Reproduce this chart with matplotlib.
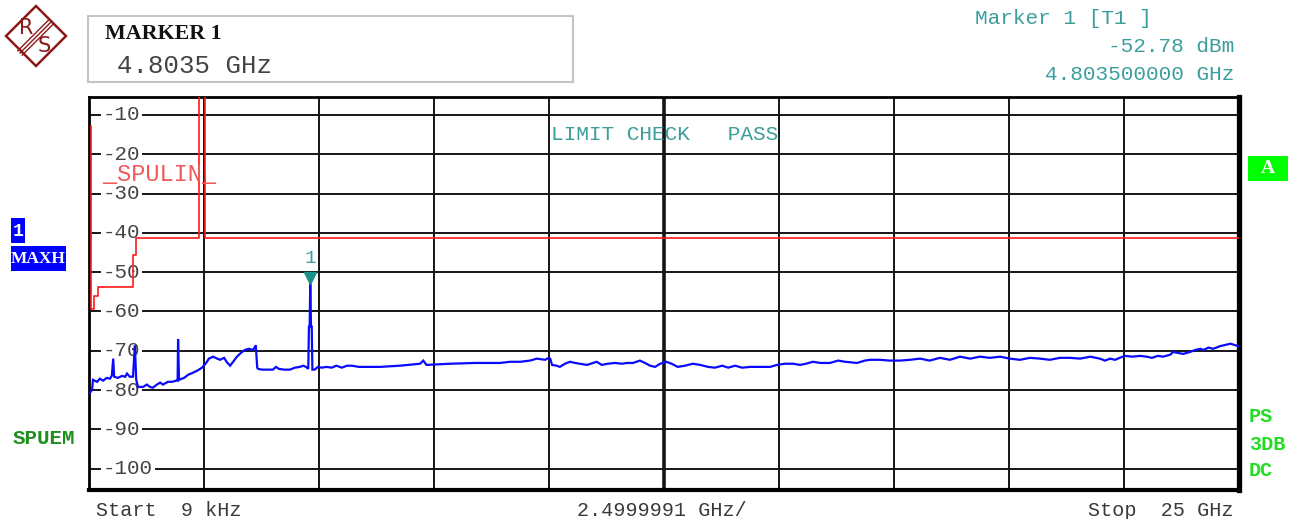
import matplotlib
matplotlib.use("Agg")
import matplotlib.pyplot as plt
from matplotlib.patches import Rectangle, Polygon
from matplotlib.lines import Line2D

# ---------------- data ----------------
marker_freq_ghz = 4.8035
marker_level_dbm = -52.78

trace_freq_ghz = [
    0.015, 0.06, 0.08, 0.17, 0.23, 0.30, 0.38, 0.45, 0.49, 0.52,
    0.54, 0.62, 0.71, 0.78, 0.82, 0.88, 0.95, 0.99, 1.02, 1.06,
    1.17, 1.25, 1.32, 1.38, 1.47, 1.54, 1.60, 1.71, 1.80, 1.89,
    1.92, 1.93, 1.95, 2.06, 2.15, 2.25, 2.34, 2.41, 2.45, 2.54,
    2.60, 2.69, 2.78, 2.84, 2.93, 2.99, 3.06, 3.12, 3.21, 3.30,
    3.38, 3.47, 3.56, 3.62, 3.65, 3.67, 3.75, 3.88, 3.99, 4.06,
    4.12, 4.23, 4.36, 4.47, 4.58, 4.65, 4.71, 4.76, 4.775, 4.79,
    4.8035, 4.82, 4.835, 4.85, 4.90, 4.97, 5.05, 5.16, 5.27, 5.37,
    5.49, 5.60, 5.71, 5.86, 6.32, 6.75, 7.19, 7.26, 7.33, 7.84,
    8.38, 8.93, 9.15, 9.37, 9.58, 9.73, 9.91, 9.99, 10.02, 10.06,
    10.16, 10.23, 10.34, 10.45, 10.56, 10.67, 10.82, 10.95, 11.03, 11.14,
    11.27, 11.43, 11.58, 11.69, 11.82, 11.97, 12.08, 12.19, 12.30, 12.41,
    12.54, 12.66, 12.79, 12.95, 13.12, 13.28, 13.45, 13.60, 13.76, 13.89,
    14.04, 14.19, 14.37, 14.58, 14.80, 14.95, 15.12, 15.30, 15.45, 15.58,
    15.73, 15.89, 16.10, 16.28, 16.43, 16.69, 16.86, 16.97, 17.19, 17.40,
    17.62, 17.84, 18.06, 18.27, 18.49, 18.71, 18.93, 19.15, 19.36, 19.58,
    19.80, 20.01, 20.23, 20.45, 20.67, 20.88, 21.10, 21.32, 21.54, 21.76,
    21.97, 22.08, 22.19, 22.30, 22.40, 22.51, 22.68, 22.84, 22.99, 23.10,
    23.23, 23.34, 23.50, 23.56, 23.65, 23.78, 23.93, 24.04, 24.15, 24.22,
    24.33, 24.43, 24.59, 24.70, 24.81, 24.89, 24.97,
]
trace_level_dbm = [
    -80.7, -79.9, -77.4, -77.9, -77.1, -77.6, -76.9, -77.1, -76.3, -72.0,
    -76.6, -76.9, -76.4, -76.6, -75.8, -76.6, -76.6, -68.6, -77.4, -79.2,
    -79.2, -78.6, -79.2, -79.4, -78.6, -78.1, -78.6, -77.9, -77.9, -77.6,
    -77.6, -67.0, -77.4, -76.9, -76.1, -75.6, -75.1, -74.6, -74.3, -73.1,
    -72.0, -71.5, -72.0, -72.3, -71.8, -72.9, -73.8, -72.9, -71.5, -70.5,
    -69.8, -69.5, -69.8, -68.6, -74.3, -74.6, -74.8, -74.8, -74.8, -74.1,
    -74.6, -74.8, -74.8, -74.3, -74.1, -73.8, -74.1, -74.6, -63.9, -63.9,
    -52.78, -63.9, -63.9, -74.8, -74.8, -74.1, -74.3, -74.1, -74.3, -73.8,
    -74.3, -73.8, -73.8, -74.1, -74.1, -73.8, -73.3, -72.5, -73.6, -73.3,
    -73.1, -73.1, -72.8, -72.8, -72.5, -72.0, -72.3, -71.8, -72.0, -73.6,
    -73.8, -74.1, -73.3, -72.8, -73.1, -73.3, -73.6, -73.1, -72.8, -73.6,
    -73.3, -73.1, -73.3, -73.1, -73.1, -72.5, -73.1, -73.8, -74.1, -73.3,
    -72.8, -73.3, -74.1, -73.8, -73.3, -73.6, -74.1, -74.3, -73.8, -74.3,
    -73.8, -74.3, -74.1, -74.1, -74.1, -73.6, -73.3, -73.3, -73.6, -73.3,
    -72.8, -73.1, -73.1, -72.5, -72.8, -73.1, -72.5, -72.3, -72.3, -72.5,
    -72.5, -72.3, -72.0, -72.5, -71.8, -72.3, -71.5, -72.0, -71.5, -71.8,
    -71.5, -72.0, -72.3, -71.8, -72.0, -72.3, -71.8, -71.8, -72.0, -71.5,
    -72.0, -72.5, -72.0, -72.3, -71.8, -71.3, -71.5, -71.3, -71.5, -71.8,
    -71.3, -71.5, -71.0, -70.3, -70.5, -70.8, -70.3, -69.8, -69.5, -69.8,
    -69.2, -69.5, -68.8, -68.5, -68.2, -68.5, -68.8,
]
assert len(trace_freq_ghz) == len(trace_level_dbm)

# spurious emission limit line (SPULIN)
limit_freq_ghz = [0.03, 0.03, 0.11, 0.11, 0.18, 0.18, 0.96, 0.96, 1.02, 1.02,
                  2.39, 2.39, 2.52, 2.52, 25.0]
limit_level_dbm = [-12.8, -59.4, -59.4, -56.1, -56.1, -53.9, -53.9, -45.6, -45.6, -41.2,
                   -41.2, 0.0, 0.0, -41.2, -41.2]

y_ticks = [-10, -20, -30, -40, -50, -60, -70, -80, -90, -100]
x_grid_ghz = [2.5 * i for i in range(11)]
start_label = "Start  9 kHz"
span_label = "2.4999991 GHz/"
stop_label = "Stop  25 GHz"

# ---------------- figure ----------------
W, H = 1304, 519
fig = plt.figure(figsize=(W / 100, H / 100), dpi=100)
fig.patch.set_facecolor("white")


def fx(x):
    return x / W


def fy(y):
    return 1 - y / H


MONO = "Liberation Mono"
TEAL = "#3c9e9c"
GRAYTXT = "#3a3a3a"

ax_left, ax_right, ax_top, ax_bottom = 89.3, 1239.3, 96.5, 489.5
ax = fig.add_axes([fx(ax_left), fy(ax_bottom), (ax_right - ax_left) / W, (ax_bottom - ax_top) / H])
ax.set_xlim(0, 25)
ax.set_ylim(-105.3, -5.3)
ax.set_xticks([])
ax.set_yticks([])
for side, lw in (("left", 2.0), ("top", 2.0), ("bottom", 3.0), ("right", 3.8)):
    ax.spines[side].set_linewidth(lw)
    ax.spines[side].set_color("black")

# graticule
for v in y_ticks:
    ax.axhline(v, color="#151515", lw=1.4, zorder=1)
for f in x_grid_ghz[1:-1]:
    ax.axvline(f, color="#151515", lw=2.6 if f == 12.5 else 1.4, zorder=1)

# level labels sitting on the graticule lines
for v in y_ticks:
    ax.text(0.30, v, f"-{abs(v)}", family=MONO, fontsize=15, color="#444444",
            ha="left", va="center",
            bbox=dict(facecolor="white", edgecolor="none", pad=1.2), zorder=3)

# limit line and its label
ax.plot(limit_freq_ghz, limit_level_dbm, color="#ff1a1a", lw=1.2, zorder=4)
fig.text(fx(103), fy(175), "_SPULIN_", family=MONO, fontsize=17, color="#f05a5a",
         ha="left", va="center")

# measured trace
ax.plot(trace_freq_ghz, trace_level_dbm, color="#0a0aff", lw=1.6, zorder=5,
        solid_joinstyle="miter")

# marker 1
ax.plot([marker_freq_ghz], [marker_level_dbm + 1.4], marker="v", markersize=9,
        color="#1f8f8c", zorder=6, linestyle="none")
ax.text(marker_freq_ghz, marker_level_dbm + 6.2, "1", family=MONO, fontsize=14,
        color=TEAL, ha="center", va="center", zorder=6)

fig.text(fx(551), fy(135), "LIMIT CHECK   PASS", family=MONO, fontsize=15.2,
         color=TEAL, ha="left", va="center")

# ---------------- header ----------------
# Rohde & Schwarz style logo
logo_c = (36, 36)
r = 30
diamond = Polygon([(fx(logo_c[0]), fy(logo_c[1] - r)), (fx(logo_c[0] + r), fy(logo_c[1])),
                   (fx(logo_c[0]), fy(logo_c[1] + r)), (fx(logo_c[0] - r), fy(logo_c[1]))],
                  closed=True, fill=False, edgecolor="#8b1a1a", lw=1.8,
                  transform=fig.transFigure)
fig.patches.append(diamond)
for off in (-2.2, 0, 2.2):
    fig.lines.append(Line2D([fx(20 + off), fx(51 + off)], [fy(53 + off), fy(22 + off)],
                            color="#8b1a1a", lw=1.0, transform=fig.transFigure))
fig.text(fx(26), fy(28), "R", family="DejaVu Sans", fontsize=15, color="#8b1a1a",
         ha="center", va="center")
fig.text(fx(44), fy(46), "S", family="DejaVu Sans", fontsize=15, color="#8b1a1a",
         ha="center", va="center")

# marker summary box
fig.patches.append(Rectangle((fx(88), fy(82)), (573 - 88) / W, (82 - 16) / H,
                             fill=False, edgecolor="#c4c4c4", lw=1.5,
                             transform=fig.transFigure))
fig.text(fx(105), fy(34), "MARKER 1", family="Liberation Serif", fontweight="bold",
         fontsize=15.8, color="#111111", ha="left", va="center")
fig.text(fx(117), fy(66), f"{marker_freq_ghz:.4f} GHz", family=MONO, fontsize=18.5,
         color="#444444", ha="left", va="center")

fig.text(fx(975), fy(19), "Marker 1 [T1 ]", family=MONO, fontsize=15.2,
         color=TEAL, ha="left", va="center")
fig.text(fx(1234), fy(47), f"{marker_level_dbm:.2f} dBm", family=MONO, fontsize=15.2,
         color=TEAL, ha="right", va="center")
fig.text(fx(1234), fy(75), f"{marker_freq_ghz:.9f} GHz", family=MONO, fontsize=15.2,
         color=TEAL, ha="right", va="center")

# ---------------- side annotations ----------------
fig.patches.append(Rectangle((fx(10.5), fy(243)), 14.5 / W, 25 / H, facecolor="#0000ff",
                             edgecolor="none", transform=fig.transFigure))
fig.text(fx(17.7), fy(231), "1", family=MONO, fontweight="bold", fontsize=13,
         color="white", ha="center", va="center")
fig.patches.append(Rectangle((fx(10.5), fy(271)), 55.5 / W, 25 / H, facecolor="#0000ff",
                             edgecolor="none", transform=fig.transFigure))
fig.text(fx(38), fy(259), "MAXH", family="Liberation Serif", fontweight="bold", fontsize=12.5,
         color="white", ha="center", va="center")

fig.text(fx(13), fy(439), "SPUEM", family=MONO, fontweight="bold", fontsize=15,
         color="#1f8f1f", ha="left", va="center")

fig.patches.append(Rectangle((fx(1248), fy(181)), 39.5 / W, 25 / H, facecolor="#00ff00",
                             edgecolor="none", transform=fig.transFigure))
fig.text(fx(1268), fy(168.5), "A", family="Liberation Serif", fontweight="bold", fontsize=14,
         color="white", ha="center", va="center")
for label, yy in (("PS", 417), ("3DB", 444), ("DC", 471)):
    fig.text(fx(1249), fy(yy), label, family=MONO, fontweight="bold", fontsize=14.5,
             color="#22dd22", ha="left", va="center")

# ---------------- frequency axis annotations ----------------
fig.text(fx(96), fy(510), start_label, family=MONO, fontsize=14.5, color=GRAYTXT,
         ha="left", va="center")
fig.text(fx(662), fy(510), span_label, family=MONO, fontsize=14.5, color=GRAYTXT,
         ha="center", va="center")
fig.text(fx(1234), fy(510), stop_label, family=MONO, fontsize=14.5, color=GRAYTXT,
         ha="right", va="center")

fig.savefig("out.png", dpi=100, facecolor="white")
